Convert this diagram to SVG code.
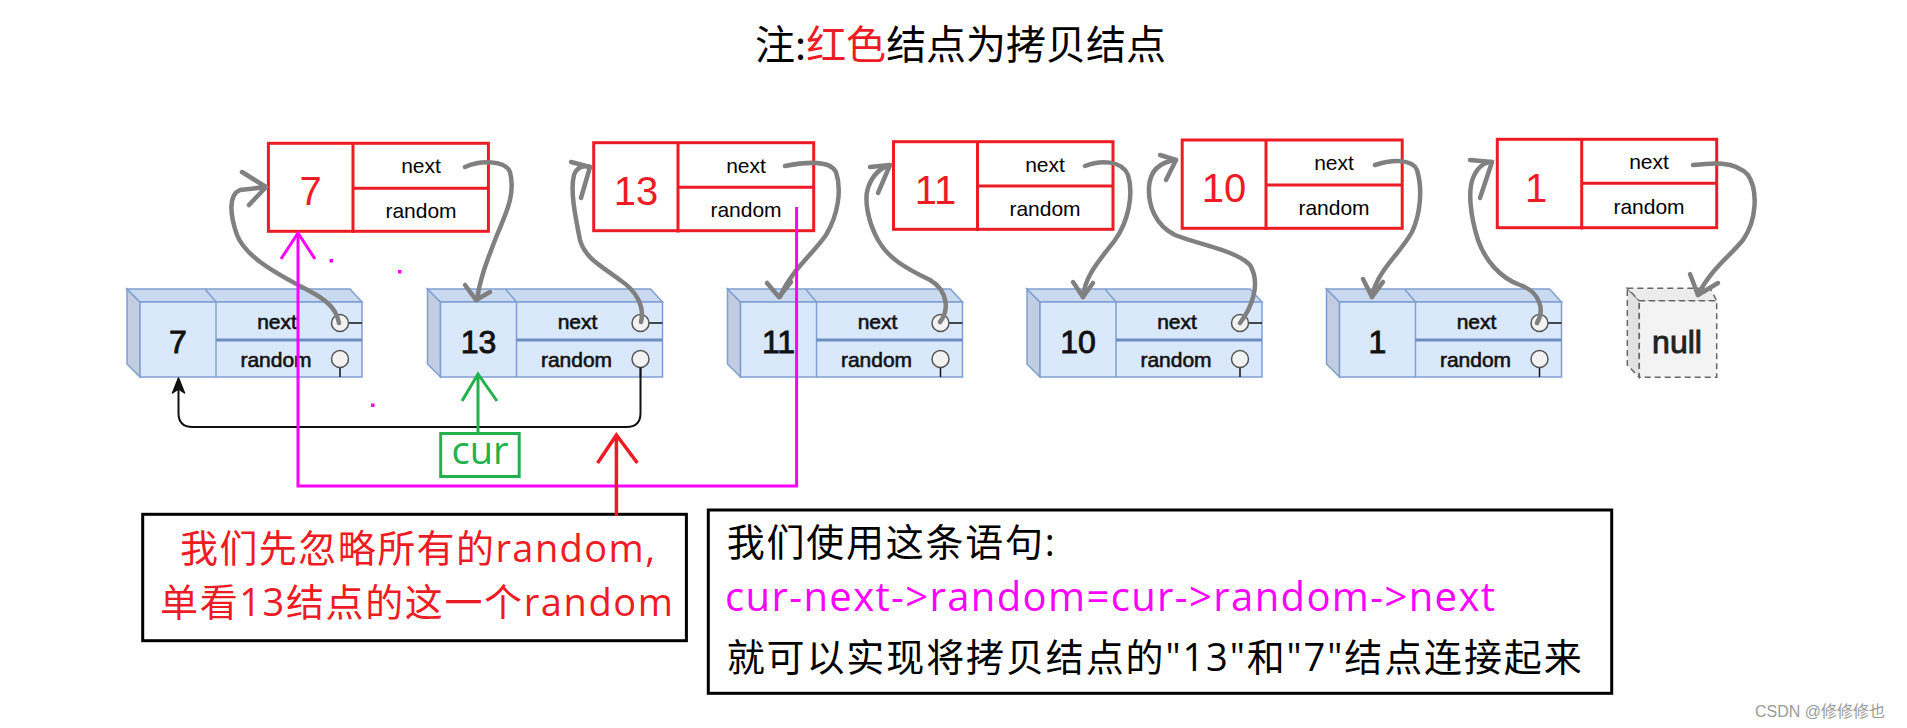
<svg xmlns="http://www.w3.org/2000/svg" width="1907" height="728" viewBox="0 0 1907 728">
<style>
.rbox{fill:#fff;stroke:#ed1c24;stroke-width:3}
.rline{stroke:#ed1c24;stroke-width:3}
.rnum{font-family:"Liberation Sans",Arial,sans-serif;font-size:40px;fill:#ed1c24;text-anchor:middle}
.rlab{font-family:"Liberation Sans",Arial,sans-serif;font-size:21px;fill:#000;text-anchor:middle}
.bfront{fill:#dae8fc;stroke:#7f9fd0;stroke-width:1.5}
.btop{fill:#c9d9f0;stroke:#7f9fd0;stroke-width:1.5}
.bside{fill:#c2cde2;stroke:#7f9fd0;stroke-width:1.5}
.bdiv{stroke:#7f9fd0;stroke-width:1.5}
.bhdiv{stroke:#6c8ebf;stroke-width:3}
.bcirc{fill:#f2f2f2;stroke:#555;stroke-width:1.5}
.blk{stroke:#111;stroke-width:1.5}
.blab{font-family:"Liberation Sans",Arial,sans-serif;font-size:21px;fill:#111;stroke:#111;stroke-width:0.6;text-anchor:middle}
.bnum{font-family:"Liberation Sans",Arial,sans-serif;font-size:32px;fill:#111;stroke:#111;stroke-width:0.9;text-anchor:middle}
.gray{fill:none;stroke:#808080;stroke-width:4.5;stroke-linecap:round;stroke-linejoin:round}
.cjk{font-family:"Open Sans","Noto Sans CJK SC",sans-serif}
</style>

<text x="755" y="58.5" font-family="'Noto Sans CJK SC',sans-serif" font-size="40" fill="#000">注:<tspan fill="#ed1c24">红色</tspan>结点为拷贝结点</text>

<!-- copy (red) nodes -->
<g id="copy7">
<rect class="rbox" x="268.4" y="143.3" width="220" height="88"/>
<line class="rline" x1="353" y1="143.3" x2="353" y2="233"/>
<line class="rline" x1="353" y1="188.3" x2="488.4" y2="188.3"/>
<text class="rnum" x="310.5" y="205">7</text>
<text class="rlab" x="421" y="173">next</text>
<text class="rlab" x="421" y="217.5">random</text>
</g>
<g id="copy13">
<rect class="rbox" x="593.7" y="142.7" width="220" height="88"/>
<line class="rline" x1="678" y1="142.7" x2="678" y2="232.5"/>
<line class="rline" x1="678" y1="187.3" x2="813.7" y2="187.3"/>
<text class="rnum" x="636" y="204.5">13</text>
<text class="rlab" x="746" y="172.5">next</text>
<text class="rlab" x="746" y="217">random</text>
</g>
<g id="copy11">
<rect class="rbox" x="893.5" y="141.7" width="219.5" height="87.6"/>
<line class="rline" x1="977.5" y1="141.7" x2="977.5" y2="231"/>
<line class="rline" x1="977.5" y1="186" x2="1113" y2="186"/>
<text class="rnum" x="935.5" y="203.5">11</text>
<text class="rlab" x="1045" y="171.5">next</text>
<text class="rlab" x="1045" y="216">random</text>
</g>
<g id="copy10">
<rect class="rbox" x="1182.2" y="140" width="220" height="88.3"/>
<line class="rline" x1="1266" y1="140" x2="1266" y2="230"/>
<line class="rline" x1="1266" y1="185" x2="1402.2" y2="185"/>
<text class="rnum" x="1224" y="202">10</text>
<text class="rlab" x="1334" y="170">next</text>
<text class="rlab" x="1334" y="214.5">random</text>
</g>
<g id="copy1">
<rect class="rbox" x="1497.3" y="139.3" width="219.4" height="88.4"/>
<line class="rline" x1="1581.7" y1="139.3" x2="1581.7" y2="229.5"/>
<line class="rline" x1="1581.7" y1="183.3" x2="1716.7" y2="183.3"/>
<text class="rnum" x="1536" y="201.5">1</text>
<text class="rlab" x="1649" y="169">next</text>
<text class="rlab" x="1649" y="213.5">random</text>
</g>

<!-- original (blue) nodes -->
<g id="node7" transform="translate(140,0)">
<polygon class="bside" points="-13,289 0,302 0,377 -13,364"/>
<polygon class="btop" points="-13,289 210,289 222,302 0,302"/>
<rect class="bfront" x="0" y="302" width="222" height="75"/>
<line class="bdiv" x1="65" y1="289" x2="76" y2="302"/>
<line class="bdiv" x1="76" y1="302" x2="76" y2="377"/>
<line class="bhdiv" x1="76" y1="340" x2="222" y2="340"/>
<line class="blk" x1="208.5" y1="323" x2="222" y2="323"/>
<line class="blk" x1="200" y1="367.5" x2="200" y2="377"/>
<circle class="bcirc" cx="200" cy="323" r="8.5"/>
<circle class="bcirc" cx="200" cy="359" r="8.5"/>
<text class="bnum" x="38" y="353">7</text>
<text class="blab" x="137" y="329">next</text>
<text class="blab" x="136" y="367">random</text>
</g>
<g id="node13" transform="translate(440.5,0)">
<polygon class="bside" points="-13,289 0,302 0,377 -13,364"/>
<polygon class="btop" points="-13,289 210,289 222,302 0,302"/>
<rect class="bfront" x="0" y="302" width="222" height="75"/>
<line class="bdiv" x1="65" y1="289" x2="76" y2="302"/>
<line class="bdiv" x1="76" y1="302" x2="76" y2="377"/>
<line class="bhdiv" x1="76" y1="340" x2="222" y2="340"/>
<line class="blk" x1="208.5" y1="323" x2="222" y2="323"/>
<line class="blk" x1="200" y1="367.5" x2="200" y2="377"/>
<circle class="bcirc" cx="200" cy="323" r="8.5"/>
<circle class="bcirc" cx="200" cy="359" r="8.5"/>
<text class="bnum" x="38" y="353">13</text>
<text class="blab" x="137" y="329">next</text>
<text class="blab" x="136" y="367">random</text>
</g>
<g id="node11" transform="translate(740.5,0)">
<polygon class="bside" points="-13,289 0,302 0,377 -13,364"/>
<polygon class="btop" points="-13,289 210,289 222,302 0,302"/>
<rect class="bfront" x="0" y="302" width="222" height="75"/>
<line class="bdiv" x1="65" y1="289" x2="76" y2="302"/>
<line class="bdiv" x1="76" y1="302" x2="76" y2="377"/>
<line class="bhdiv" x1="76" y1="340" x2="222" y2="340"/>
<line class="blk" x1="208.5" y1="323" x2="222" y2="323"/>
<line class="blk" x1="200" y1="367.5" x2="200" y2="377"/>
<circle class="bcirc" cx="200" cy="323" r="8.5"/>
<circle class="bcirc" cx="200" cy="359" r="8.5"/>
<text class="bnum" x="38" y="353">11</text>
<text class="blab" x="137" y="329">next</text>
<text class="blab" x="136" y="367">random</text>
</g>
<g id="node10" transform="translate(1040,0)">
<polygon class="bside" points="-13,289 0,302 0,377 -13,364"/>
<polygon class="btop" points="-13,289 210,289 222,302 0,302"/>
<rect class="bfront" x="0" y="302" width="222" height="75"/>
<line class="bdiv" x1="65" y1="289" x2="76" y2="302"/>
<line class="bdiv" x1="76" y1="302" x2="76" y2="377"/>
<line class="bhdiv" x1="76" y1="340" x2="222" y2="340"/>
<line class="blk" x1="208.5" y1="323" x2="222" y2="323"/>
<line class="blk" x1="200" y1="367.5" x2="200" y2="377"/>
<circle class="bcirc" cx="200" cy="323" r="8.5"/>
<circle class="bcirc" cx="200" cy="359" r="8.5"/>
<text class="bnum" x="38" y="353">10</text>
<text class="blab" x="137" y="329">next</text>
<text class="blab" x="136" y="367">random</text>
</g>
<g id="node1" transform="translate(1339.5,0)">
<polygon class="bside" points="-13,289 0,302 0,377 -13,364"/>
<polygon class="btop" points="-13,289 210,289 222,302 0,302"/>
<rect class="bfront" x="0" y="302" width="222" height="75"/>
<line class="bdiv" x1="65" y1="289" x2="76" y2="302"/>
<line class="bdiv" x1="76" y1="302" x2="76" y2="377"/>
<line class="bhdiv" x1="76" y1="340" x2="222" y2="340"/>
<line class="blk" x1="208.5" y1="323" x2="222" y2="323"/>
<line class="blk" x1="200" y1="367.5" x2="200" y2="377"/>
<circle class="bcirc" cx="200" cy="323" r="8.5"/>
<circle class="bcirc" cx="200" cy="359" r="8.5"/>
<text class="bnum" x="38" y="353">1</text>
<text class="blab" x="137" y="329">next</text>
<text class="blab" x="136" y="367">random</text>
</g>
<g id="nullnode">
<polygon points="1627.3,288.3 1639.3,300.7 1639.3,377.3 1627.3,365" fill="#e2e2e2" stroke="#666" stroke-width="1.5" stroke-dasharray="6 4"/>
<polygon points="1627.3,288.3 1710,288.3 1716.7,300.7 1639.3,300.7" fill="#ececec" stroke="#666" stroke-width="1.5" stroke-dasharray="6 4"/>
<rect x="1639.3" y="300.7" width="77.4" height="76.6" fill="#f3f3f3" stroke="#666" stroke-width="1.5" stroke-dasharray="6 4"/>
<text x="1677" y="353" font-family="'Liberation Sans',Arial,sans-serif" font-size="32" fill="#222" stroke="#222" stroke-width="0.9" text-anchor="middle">null</text>
</g>

<g id="cur">
<rect x="440.7" y="433.5" width="78.5" height="43" fill="#fff" stroke="#22b14c" stroke-width="3"/>
<text x="480" y="464.3" font-family="'Open Sans',sans-serif" font-size="38" fill="#22b14c" text-anchor="middle">cur</text>
</g>

<g id="note-left">
<rect x="142.7" y="514.3" width="543.7" height="126.4" fill="#fff" stroke="#000" stroke-width="3"/>
<text class="cjk" x="180" y="561.7" font-size="38" fill="#ed1c24" textLength="475" lengthAdjust="spacing">我们先忽略所有的random,</text>
<text class="cjk" x="160" y="615.7" font-size="38" fill="#ed1c24" textLength="513" lengthAdjust="spacing">单看13结点的这一个random</text>
</g>

<g id="note-right">
<rect x="708.3" y="510" width="903.4" height="183.3" fill="#fff" stroke="#000" stroke-width="3"/>
<text class="cjk" x="726.7" y="556" font-size="38" fill="#000" textLength="328" lengthAdjust="spacing">我们使用这条语句:</text>
<text class="cjk" x="725" y="611" font-size="40" fill="#ff00ff" textLength="770" lengthAdjust="spacing">cur-next-&gt;random=cur-&gt;random-&gt;next</text>
<text class="cjk" x="726.7" y="671" font-size="38" fill="#000" textLength="855" lengthAdjust="spacing">就可以实现将拷贝结点的"13"和"7"结点连接起来</text>
</g>

<g id="connectors">
<path class="gray" d="M339,323 C336,305 320,296 300,286 C270,270 245,255 237,235 C230,215 228,195 240,190 L266,187"/>
<path class="gray" d="M242,172 L266,187 L249,205"/>
<path class="gray" d="M465,167 C480,160 505,160 510,172 C516,195 505,215 497,235 C488,258 480,278 477,300"/>
<path class="gray" d="M465,285 L476,300 L490,292"/>
<path class="gray" d="M641,322 C645,305 635,290 620,280 C600,265 585,258 580,240 C575,215 570,190 574,175 C577,167 583,165 590,167"/>
<path class="gray" d="M571,162 L590,167 L581,198"/>
<path class="gray" d="M785,166 C805,162 830,160 836,172 C842,190 838,215 826,235 C812,255 790,272 780,297"/>
<path class="gray" d="M767,283 L779,297 L791,282"/>
<path class="gray" d="M940,322 C948,312 950,292 930,280 C905,268 888,258 878,240 C868,222 864,200 868,188 C872,176 880,168 890,165"/>
<path class="gray" d="M870,167 L890,165 L878,193"/>
<path class="gray" d="M1085,166 C1100,160 1122,160 1128,175 C1134,195 1128,222 1115,240 C1100,260 1085,275 1083,297"/>
<path class="gray" d="M1073,282 L1083,297 L1093,283"/>
<path class="gray" d="M1240,323 C1250,310 1262,285 1250,265 C1235,250 1200,245 1175,235 C1155,225 1148,205 1149,187 C1150,170 1160,162 1176,160"/>
<path class="gray" d="M1160,155 L1176,160 L1166,180"/>
<path class="gray" d="M1375,165 C1390,160 1412,158 1417,170 C1423,190 1420,215 1412,232 C1402,250 1385,265 1378,280 C1374,288 1372,292 1372,297"/>
<path class="gray" d="M1363,279 L1372,297 L1383,282"/>
<path class="gray" d="M1537,323 C1545,310 1540,292 1520,285 C1500,278 1485,260 1478,240 C1470,215 1468,190 1473,178 C1477,168 1484,162 1492,162"/>
<path class="gray" d="M1470,160 L1492,162 L1480,198"/>
<path class="gray" d="M1693,165 C1710,163 1735,160 1748,175 C1758,190 1757,220 1743,240 C1730,256 1710,270 1698,295"/>
<path class="gray" d="M1690,274 L1698,295 L1718,283"/>

<path d="M640.5,367.5 L640.5,413 Q640.5,427 626.5,427 L192.5,427 Q178.5,427 178.5,413 L178.5,386" fill="none" stroke="#111" stroke-width="2"/>
<path d="M178.5,378 L172.5,393 L178.5,389 L184.5,393 Z" fill="#111" stroke="#111" stroke-width="1.5" stroke-linejoin="round"/>

<path d="M478,433.5 L478,374 M462,401 L478,374 L497,401" fill="none" stroke="#22b14c" stroke-width="3"/>

<path d="M298,233 L298,486 L796.6,486 L796.6,207" fill="none" stroke="#ff00ff" stroke-width="3"/>
<path d="M281,259 L298,233 L315,259" fill="none" stroke="#ff00ff" stroke-width="3"/>

<path d="M616.4,516 L616.4,435 M597.6,463 L616.4,435 L637.4,463" fill="none" stroke="#ed1c24" stroke-width="3.5"/>
</g>

<rect x="329.5" y="259" width="3.5" height="3.5" fill="#ff00ff"/>
<rect x="398" y="270" width="3.5" height="3.5" fill="#ff00ff"/>
<rect x="371" y="403.5" width="3.5" height="3.5" fill="#ff00ff"/>

<text x="1755" y="716.5" font-family="'Liberation Sans','Noto Sans CJK SC',sans-serif" font-size="16" fill="#9a9a9a">CSDN @修修修也</text>
</svg>
